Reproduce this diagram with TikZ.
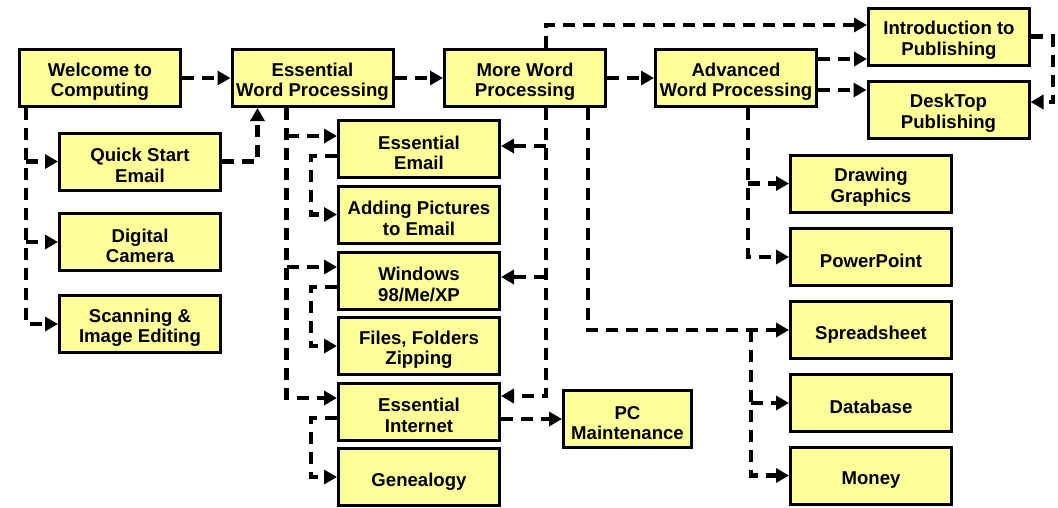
\documentclass[tikz,border=0pt]{standalone}
\usepackage{fontspec}
\setmainfont{Liberation Sans}
\usetikzlibrary{arrows.meta}
\definecolor{boxfill}{HTML}{FFFF99}
\newcommand{\twolines}[2]{\rule{0pt}{21pt}#1\\#2}
\tikzset{
  box/.style={draw=black, line width=3pt, fill=boxfill, align=center,
    minimum width=161pt, minimum height=57pt, inner sep=1pt,
    font=\bfseries\fontsize{18.6}{20.7}\selectfont},
  onebox/.style={box, execute at begin node={\rule{0pt}{22pt}}},
  conn/.style={line width=4.8pt, dash pattern=on 12pt off 8pt,
    -{Triangle[length=13pt,width=14pt]}}
}
\begin{document}
\begin{tikzpicture}[x=1pt,y=-1pt]
\useasboundingbox (0,0) rectangle (1058,507);
% boxes
\node[box] (welcome) at (100,78) {\twolines{Welcome to}{Computing}};
\node[box] (ewp) at (312.5,78) {\twolines{Essential}{Word Processing}};
\node[box] (mwp) at (525,78) {\twolines{More Word}{Processing}};
\node[box] (awp) at (736,78) {\twolines{Advanced}{Word Processing}};
\node[box] (intro) at (949,36.5) {\twolines{Introduction to}{Publishing}};
\node[box] (desk) at (948.5,109.5) {\twolines{DeskTop}{Publishing}};
\node[box] (qs) at (140,161.5) {\twolines{Quick Start}{Email}};
\node[box] (dc) at (140,242) {\twolines{Digital}{Camera}};
\node[box] (scan) at (140,324) {\twolines{Scanning \&}{Image Editing}};
\node[box] (email) at (419,149) {\twolines{Essential}{Email}};
\node[box] (addpic) at (419,214.5) {\twolines{Adding Pictures}{to Email}};
\node[box] (win) at (419,280.5) {\twolines{Windows}{98/Me/XP}};
\node[box] (files) at (419,346) {\twolines{Files, Folders}{Zipping}};
\node[box] (inet) at (419,411.5) {\twolines{Essential}{Internet}};
\node[onebox] (gene) at (419,477) {Genealogy};
\node[box, minimum width=128pt] (pc) at (627.5,419) {\twolines{PC}{Maintenance}};
\node[box] (drawg) at (871,183.5) {\twolines{Drawing}{Graphics}};
\node[onebox] (ppt) at (871,257) {PowerPoint};
\node[onebox] (sheet) at (871,330) {Spreadsheet};
\node[onebox] (db) at (871,403) {Database};
\node[onebox] (money) at (871,475.5) {Money};
% trunk coordinates
\coordinate (tL) at ([xshift=8]welcome.south west);
\coordinate (tE) at ([xshift=56]ewp.south west);
\coordinate (tM) at ([xshift=103]mwp.south west);
\coordinate (tM2) at ([xshift=145]mwp.south west);
\coordinate (tMtop) at ([xshift=103]mwp.north west);
\coordinate (tA) at ([xshift=94]awp.south west);
\coordinate (tS) at ([xshift=-38]sheet.west);
% entry / exit points
\coordinate (emailIn) at ([yshift=13]email.west);
\coordinate (winIn) at ([yshift=13.5]win.west);
\coordinate (inetIn) at ([yshift=13.5]inet.west);
\coordinate (emailR) at ([yshift=3]email.east);
\coordinate (winR) at ([yshift=3.5]win.east);
\coordinate (inetR) at ([yshift=15.5]inet.east);
\coordinate (awpUp) at ([yshift=19]awp.east);
\coordinate (awpDn) at ([yshift=-12]awp.east);
% main row
\draw[conn] (welcome.east) -- (ewp.west);
\draw[conn] (ewp.east) -- (mwp.west);
\draw[conn] (mwp.east) -- (awp.west);
% left trunk
\draw[conn] (tL) |- (scan.west);
\draw[conn] (tL |- qs.west) -- (qs.west);
\draw[conn] (tL |- dc.west) -- (dc.west);
\draw[conn] (qs.east) -| ([xshift=27]ewp.south west);
% essential WP trunk
\draw[conn] (tE) |- (inetIn);
\draw[conn] (tE |- emailIn) -- (emailIn);
\draw[conn] (tE |- winIn) -- (winIn);
\draw[conn] ([yshift=-7]email.west) -- ++(-26,0) |- (addpic.west);
\draw[conn] ([yshift=-6.5]win.west) -- ++(-26,0) |- (files.west);
\draw[conn] ([yshift=-6.5]inet.west) -- ++(-26,0) |- (gene.west);
% more WP trunks
\draw[conn] (tM) |- (inetR);
\draw[conn] (tM |- emailR) -- (emailR);
\draw[conn] (tM |- winR) -- (winR);
\draw[conn] (inet.east |- pc.west) -- (pc.west);
\draw[conn] (tMtop) |- ([yshift=11.5]intro.west);
\draw[conn] (tM2) |- (sheet.west);
% advanced WP
\draw[conn] (awpUp) -- (awpUp -| intro.west);
\draw[conn] (awpDn) -- (awpDn -| desk.west);
\draw[conn] (intro.east) -- ++(22,0) |- ([yshift=7.5]desk.east);
\draw[conn] (tA) |- (ppt.west);
\draw[conn] (tA |- drawg.west) -- (drawg.west);
% spreadsheet trunk
\draw[conn] (tS) |- (money.west);
\draw[conn] (tS |- db.west) -- (db.west);
\end{tikzpicture}
\end{document}
